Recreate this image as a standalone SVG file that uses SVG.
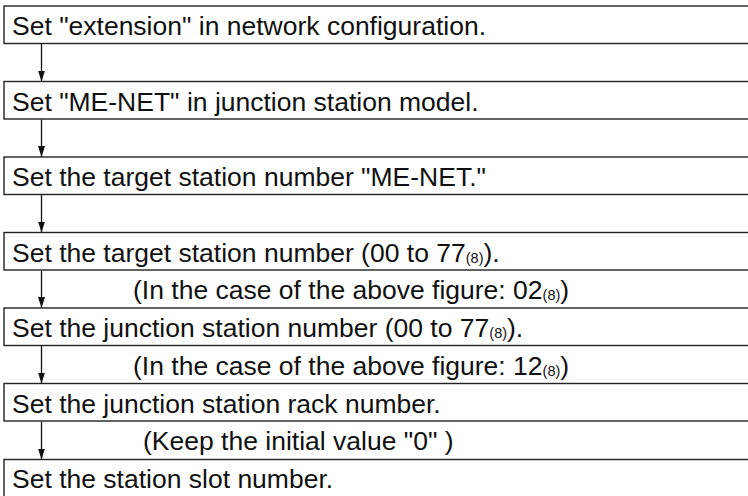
<svg xmlns="http://www.w3.org/2000/svg" width="748" height="496" viewBox="0 0 748 496">
<defs>
<style>
.box{fill:#fff;stroke:#222;stroke-width:1.4}
.t{font-family:"Liberation Sans",Arial,Helvetica,sans-serif;font-size:26.5px;fill:#111}
.s{font-size:14.5px}
.c{stroke:#111;stroke-width:1.3;fill:none}
</style>
<marker id="ah" markerWidth="11" markerHeight="7" refX="11" refY="3.5" orient="auto" markerUnits="userSpaceOnUse" viewBox="0 0 11 7">
<path d="M0,0 L11,3.5 L0,7 Z" fill="#111"/>
</marker>
</defs>
<rect width="748" height="496" fill="#fff"/>
<g id="connectors">
<path class="c" d="M41.5,44 V81.5" marker-end="url(#ah)"/>
<path class="c" d="M41.5,119.5 V157" marker-end="url(#ah)"/>
<path class="c" d="M41.5,195 V232.5" marker-end="url(#ah)"/>
<path class="c" d="M41.5,270.5 V308" marker-end="url(#ah)"/>
<path class="c" d="M41.5,346 V383.5" marker-end="url(#ah)"/>
<path class="c" d="M41.5,421.5 V459.5" marker-end="url(#ah)"/>
</g>
<g id="n1"><rect class="box" x="4" y="6" width="750" height="37.5"/><text class="t" x="12" y="35">Set "extension" in network configuration.</text></g>
<g id="n2"><rect class="box" x="4" y="81.5" width="750" height="37.5"/><text class="t" x="12" y="110.5">Set "ME-NET" in junction station model.</text></g>
<g id="n3"><rect class="box" x="4" y="157" width="750" height="37.5"/><text class="t" x="12" y="186">Set the target station number "ME-NET."</text></g>
<g id="n4"><rect class="box" x="4" y="232.5" width="750" height="37.5"/><text class="t" x="12" y="261.5">Set the target station number (00 to 77<tspan class="s" dy="1">(8)</tspan><tspan dy="-1">).</tspan></text></g>
<g id="a1"><text class="t" x="133" y="299">(In the case of the above figure: 02<tspan class="s" dy="1">(8)</tspan><tspan dy="-1">)</tspan></text></g>
<g id="n5"><rect class="box" x="4" y="308" width="750" height="37.5"/><text class="t" x="12" y="337">Set the junction station number (00 to 77<tspan class="s" dy="1">(8)</tspan><tspan dy="-1">).</tspan></text></g>
<g id="a2"><text class="t" x="133" y="374.5">(In the case of the above figure: 12<tspan class="s" dy="1">(8)</tspan><tspan dy="-1">)</tspan></text></g>
<g id="n6"><rect class="box" x="4" y="383.5" width="750" height="37.5"/><text class="t" x="12" y="412.5">Set the junction station rack number.</text></g>
<g id="a3"><text class="t" x="143" y="450">(Keep the initial value "0" )</text></g>
<g id="n7"><rect class="box" x="4" y="459.5" width="750" height="40"/><text class="t" x="12" y="488">Set the station slot number.</text></g>
</svg>
